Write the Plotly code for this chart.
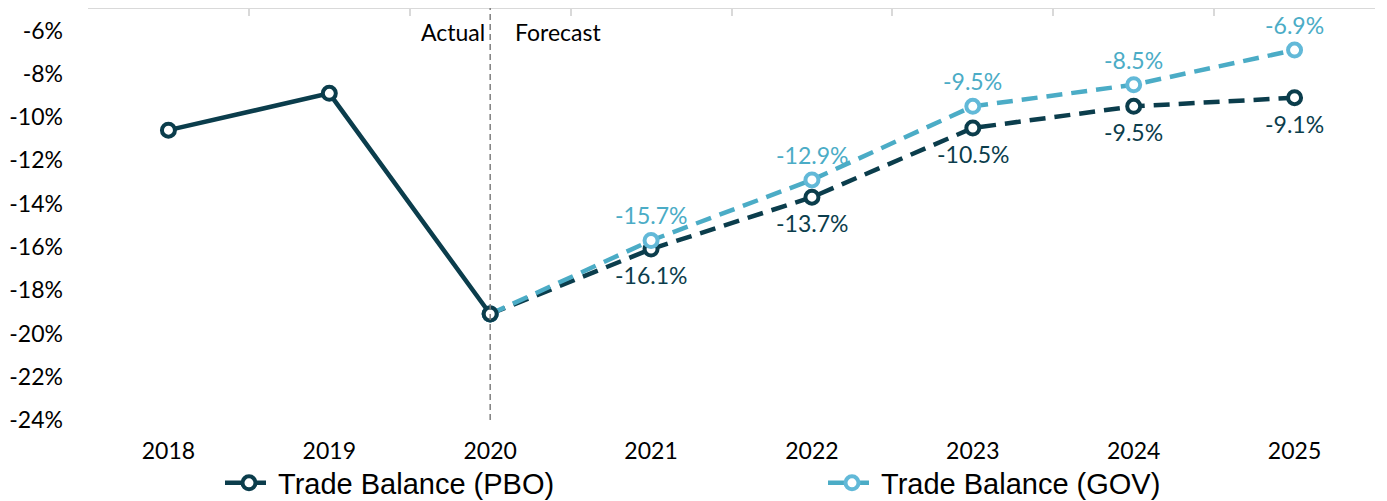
import plotly.graph_objects as go

# данные
years = ["2018", "2019", "2020", "2021", "2022", "2023", "2024", "2025"]
pbo = [-10.6, -8.9, -19.1, -16.1, -13.7, -10.5, -9.5, -9.1]
gov = [None, None, -19.1, -15.7, -12.9, -9.5, -8.5, -6.9]
split_year = "2020"  # граница факт / прогноз
ytick_vals = [-24, -22, -20, -18, -16, -14, -12, -10, -8, -6]
ytick_text = ["-24%", "-22%", "-20%", "-18%", "-16%", "-14%", "-12%", "-10%", "-8%", "-6%"]

dark = "#0B3D4C"
light = "#4BACC6"
light_marker = "#62B9D8"
calibri = "Lato"
fsize = 23

# страница сдвигает график на 8px (отступ body), поэтому размеры чуть меньше окна
W, H = 1379, 493

k = years.index(split_year)

fig = go.Figure()

# PBO прогноз (пунктир)
fig.add_trace(go.Scatter(
    x=years[k:], y=pbo[k:],
    mode="lines+markers",
    line=dict(color=dark, width=4.5, dash="16px,9px"),
    marker=dict(size=13, color="white", line=dict(color=dark, width=4)),
    name="Trade Balance (PBO)", legend="legend",
))

# GOV прогноз
fig.add_trace(go.Scatter(
    x=years[k:], y=gov[k:],
    mode="lines+markers",
    line=dict(color=light, width=4.5, dash="16px,9px"),
    marker=dict(size=13, color="white", line=dict(color=light_marker, width=4)),
    name="Trade Balance (GOV)", legend="legend2",
))

# PBO факт (сплошная)
fig.add_trace(go.Scatter(
    x=years[:k + 1], y=pbo[:k + 1],
    mode="lines+markers",
    line=dict(color=dark, width=4.5),
    marker=dict(size=13, color="white", line=dict(color=dark, width=4)),
    showlegend=False,
))

# пустой трейс для верхней оси
fig.add_trace(go.Scatter(
    x=years, y=[None] * len(years), xaxis="x2",
    showlegend=False, hoverinfo="skip",
))

# подписи значений (только прогноз); x по индексу категории
for i in range(k + 1, len(years)):
    fig.add_annotation(x=i, y=pbo[i], text=f"{pbo[i]:.1f}%",
                       showarrow=False, yshift=-26, yanchor="middle",
                       font=dict(family=calibri, size=fsize, color=dark))
    fig.add_annotation(x=i, y=gov[i], text=f"{gov[i]:.1f}%",
                       showarrow=False, yshift=25, yanchor="middle",
                       font=dict(family=calibri, size=fsize, color=light))

# вертикальная линия факт / прогноз
fig.add_shape(type="line", xref="x", yref="paper",
              x0=k, x1=k, y0=0, y1=1.005,
              line=dict(color="#7F7F7F", width=1.5, dash="6px,4px"))

fig.add_annotation(x=k, y=0.944, xref="x", yref="paper", text="Actual",
                   showarrow=False, xanchor="right", yanchor="middle", xshift=-3,
                   font=dict(family=calibri, size=fsize, color="black"))
fig.add_annotation(x=k, y=0.944, xref="x", yref="paper", text="Forecast",
                   showarrow=False, xanchor="left", yanchor="middle", xshift=23,
                   font=dict(family=calibri, size=fsize, color="black"))

legend_font = dict(family="Liberation Sans", size=29, color="black")

fig.update_layout(
    width=W, height=H,
    margin=dict(l=80, r=12, t=1, b=81),
    plot_bgcolor="white", paper_bgcolor="white",
    xaxis=dict(
        type="category", categoryorder="array", categoryarray=years,
        range=[-0.5, len(years) - 0.5], automargin=False,
        showline=False, showgrid=False, ticks="",
        tickfont=dict(family=calibri, size=fsize, color="black"),
        ticklabelstandoff=15,
    ),
    xaxis2=dict(
        type="category", categoryorder="array", categoryarray=years,
        overlaying="x", side="top", matches="x", automargin=False,
        showline=True, linecolor="#D9D9D9", linewidth=2,
        ticks="inside", ticklen=7, tickcolor="#D9D9D9", tickwidth=2,
        tickson="boundaries", showticklabels=False, showgrid=False,
    ),
    yaxis=dict(
        range=[-24, -5], tickmode="array", tickvals=ytick_vals, ticktext=ytick_text,
        showgrid=False, zeroline=False, showline=False, automargin=False,
        tickfont=dict(family=calibri, size=fsize, color="black"),
        ticklabelstandoff=24,
    ),
    legend=dict(
        orientation="h", xref="container", yref="container",
        x=212 / W, xanchor="left", y=1 - 475 / H, yanchor="middle",
        itemwidth=48, bgcolor="rgba(0,0,0,0)", font=legend_font,
    ),
    legend2=dict(
        orientation="h", xref="container", yref="container",
        x=815 / W, xanchor="left", y=1 - 475 / H, yanchor="middle",
        itemwidth=48, bgcolor="rgba(0,0,0,0)", font=legend_font,
    ),
)

fig.write_html("out.html")
